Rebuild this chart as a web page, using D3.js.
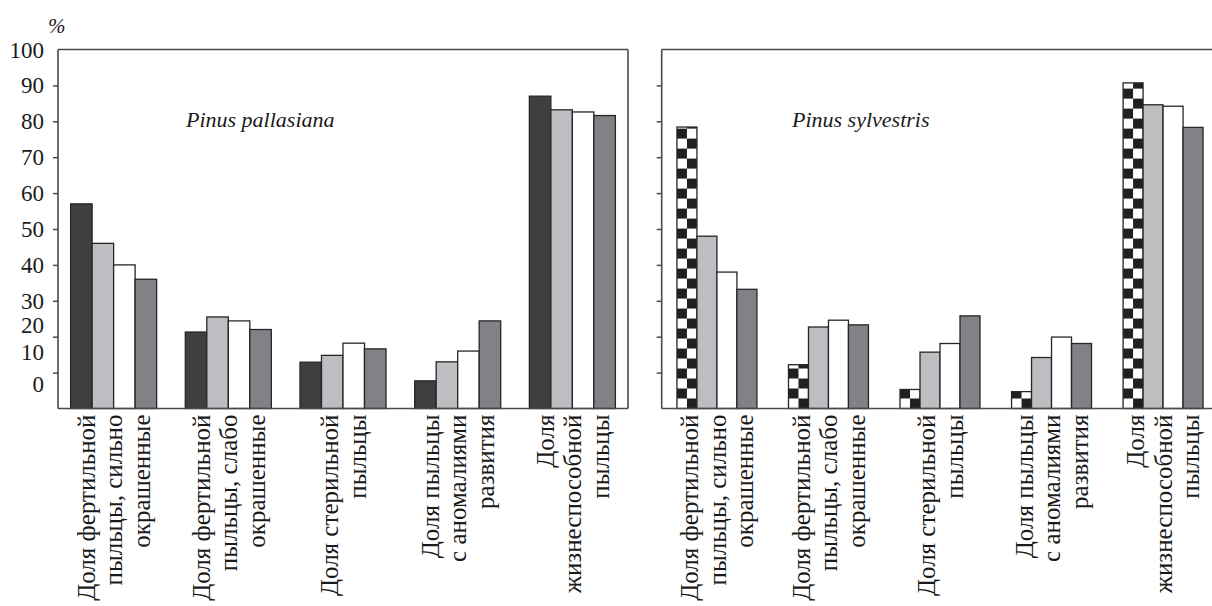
<!DOCTYPE html>
<html>
<head>
<meta charset="utf-8">
<script src="https://cdn.jsdelivr.net/npm/d3@7"></script>
<style>
  body { margin: 0; background: #fff; }
</style>
</head>
<body>
<div class="canvas"></div>
<script>
// categories (multi-line labels under each group)
const categories = [
    ["Доля фертильной", "пыльцы, сильно", "окрашенные"],
    ["Доля фертильной", "пыльцы, слабо", "окрашенные"],
    ["Доля стерильной", "пыльцы"],
    ["Доля пыльцы", "с аномалиями", "развития"],
    ["Доля", "жизнеспособной", "пыльцы"]
];

// values, 4 bars per category
const pallasiana = [
    [57, 46, 40, 36],
    [21.3, 25.5, 24.4, 22],
    [12.9, 14.8, 18.2, 16.6],
    [7.7, 13, 16, 24.4],
    [87, 83.2, 82.6, 81.6]
];
const sylvestris = [
    [78.4, 48, 38, 33.2],
    [12.2, 22.7, 24.6, 23.3],
    [5.3, 15.7, 18.1, 25.8],
    [4.7, 14.2, 19.9, 18.1],
    [90.7, 84.6, 84.2, 78.3]
];

const yTicks = [0, 10, 20, 30, 40, 50, 60, 70, 80, 90, 100];
const titles = ["Pinus pallasiana", "Pinus sylvestris"];

const FONT = "'Liberation Serif', 'DejaVu Serif', serif";
const dims = {width: 1212, height: 606, top: 49.5, bottom: 408.5};

const svg = d3.select(".canvas").append("svg")
    .attr("width", dims.width)
    .attr("height", dims.height)
    .attr("font-family", FONT)
    .style("font-family", FONT);

const y = d3.scaleLinear().domain([0, 100]).range([dims.bottom, dims.top]);

const colors = ["#3f3f40", "#bdbec1", "#ffffff", "#818286"];
const checkerBlack = "#231f20";

// y axis labels sit a bit higher than their ticks near the bottom in the original
const labelNudge = {0: -24.5, 10: -20.5, 20: -11.5};

svg.append("g")
    .selectAll("text")
    .data(yTicks)
    .enter().append("text")
    .attr("x", 44)
    .attr("y", d => y(d) + (labelNudge[d] || 0))
    .attr("dy", "0.35em")
    .attr("text-anchor", "end")
    .attr("fill", "#1a1a1a")
    .style("font-family", FONT)
    .style("font-size", "23px")
    .text(d => d);

svg.append("text")
    .attr("x", 48).attr("y", 33)
    .attr("fill", "#1a1a1a")
    .style("font-family", FONT)
    .style("font-size", "21px")
    .style("font-style", "italic")
    .text("%");

const defs = svg.append("defs");

const panels = [
    {left: 58, right: 628, frameRight: true, data: pallasiana, checker: false,
     band: [58, 628], padOuter: 0.11, padInner: 0.25, titleX: 186},
    {left: 661.7, right: 1214, frameRight: false, data: sylvestris, checker: true,
     band: [665.8, 1214.2], padOuter: 0.1, padInner: 0.283, titleX: 792}
];

panels.forEach((p, pi) => {

    const x0 = d3.scaleBand()
        .domain(d3.range(categories.length))
        .range(p.band)
        .paddingInner(p.padInner)
        .paddingOuter(p.padOuter);

    const x1 = d3.scaleBand()
        .domain(d3.range(4))
        .range([0, x0.bandwidth()]);

    const graph = svg.append("g");

    // bars
    p.data.forEach((vals, ci) => {
        vals.forEach((v, si) => {
            const bx = x0(ci) + x1(si);
            let fill = colors[si];
            if (p.checker && si === 0) {
                // checkerboard anchored at the bar's corner on the baseline
                const c = x1.bandwidth() / 2;
                const id = `chk${pi}_${ci}`;
                const pat = defs.append("pattern")
                    .attr("id", id)
                    .attr("patternUnits", "userSpaceOnUse")
                    .attr("x", bx).attr("y", y(0))
                    .attr("width", 2 * c).attr("height", 2 * c);
                pat.append("rect").attr("width", 2 * c).attr("height", 2 * c).attr("fill", "#fff");
                pat.append("rect").attr("width", c).attr("height", c).attr("fill", checkerBlack);
                pat.append("rect").attr("x", c).attr("y", c).attr("width", c).attr("height", c).attr("fill", checkerBlack);
                fill = `url(#${id})`;
            }
            graph.append("rect")
                .attr("x", bx)
                .attr("y", y(v))
                .attr("width", x1.bandwidth())
                .attr("height", y(0) - y(v))
                .attr("fill", fill)
                .attr("stroke", "#262626")
                .attr("stroke-width", 1.3);
        });
    });

    // frame
    const frame = svg.append("g")
        .attr("fill", "none")
        .attr("stroke", "#4a4a4a")
        .attr("stroke-width", 1.6);
    frame.append("line").attr("x1", p.left).attr("x2", p.right).attr("y1", y(100)).attr("y2", y(100));
    frame.append("line").attr("x1", p.left).attr("x2", p.right).attr("y1", y(0)).attr("y2", y(0));
    frame.append("line").attr("x1", p.left).attr("x2", p.left).attr("y1", y(100)).attr("y2", y(0));
    if (p.frameRight)
        frame.append("line").attr("x1", p.right).attr("x2", p.right).attr("y1", y(100)).attr("y2", y(0));

    // left ticks
    const yAxis = d3.axisLeft(y)
        .tickValues(yTicks.slice(1, -1))
        .tickSize(5)
        .tickFormat("");
    const ax = svg.append("g")
        .attr("transform", `translate(${p.left},0)`)
        .call(yAxis);
    ax.select(".domain").remove();
    ax.selectAll("line").attr("stroke", "#4a4a4a").attr("stroke-width", 1.5);

    // title
    svg.append("text")
        .attr("x", p.titleX).attr("y", 127)
        .attr("fill", "#1a1a1a")
        .style("font-family", FONT)
        .style("font-size", "22px")
        .style("font-style", "italic")
        .text(titles[pi]);

    // category labels, rotated, top-aligned under the axis
    const lineH = 27.5;
    categories.forEach((lines, ci) => {
        const cx = x0(ci) + x0.bandwidth() / 2;
        const t = svg.append("text")
            .attr("transform", `translate(${cx},${y(0) + 6}) rotate(-90)`)
            .attr("text-anchor", "end")
            .attr("fill", "#1a1a1a")
            .style("font-family", FONT)
            .style("font-size", "25px");
        lines.forEach((ln, li) => {
            t.append("tspan")
                .attr("x", 0)
                .attr("y", (li - (lines.length - 1) / 2) * lineH)
                .attr("dy", "0.35em")
                .text(ln);
        });
    });
});
</script>
</body>
</html>
